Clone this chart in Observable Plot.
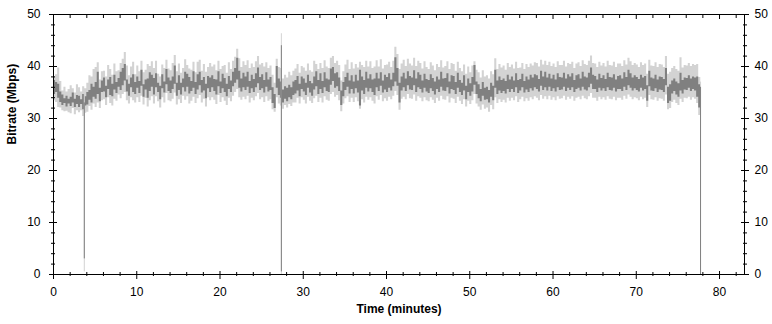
<!DOCTYPE html>
<html>
<head>
<meta charset="utf-8">
<script src="https://cdn.jsdelivr.net/npm/d3@7"></script>
<script src="https://cdn.jsdelivr.net/npm/@observablehq/plot@0.6"></script>
<style>
  html, body { margin: 0; padding: 0; background: #fff; }
  #chart svg { display: block; }
</style>
</head>
<body>
<div id="chart"></div>
<script>
// Sampling step (minutes) of the bitrate series
const step = 0.25;

// Dark band (inner range), Mbps — one line per minute (4 samples)
const darkLo = [
34.6,35.0,33.9,33.1,
32.5,32.9,32.2,32.8,
32.3,33.0,32.1,32.7,
32.1,32.7,31.7,32.4,
32.6,33.5,33.0,34.1,
33.7,34.6,33.2,35.0,
35.1,34.0,35.6,34.4,
34.2,35.5,34.8,36.0,
35.4,36.3,37.2,35.1,
34.3,35.9,35.0,34.6,
35.8,34.8,36.2,34.1,
35.5,33.9,35.2,36.0,
34.5,35.9,35.0,33.6,
35.7,34.9,36.5,35.2,
34.8,35.6,36.6,34.3,
35.4,34.5,35.9,35.1,
36.0,34.7,35.2,35.8,
34.6,35.5,36.3,34.9,
35.3,33.8,35.7,35.0,
35.9,35.2,34.5,36.1,
34.8,35.7,35.0,34.2,
35.6,35.0,36.1,36.8,
37.4,35.8,35.1,35.9,
35.4,36.0,34.8,35.7,
35.0,35.9,36.7,35.4,
35.7,34.9,36.0,35.1,
35.4,32.9,31.9,35.8,
34.4,33.9,33.0,33.7,
33.2,34.0,33.6,34.4,
34.7,35.3,34.2,35.6,
35.1,34.4,35.8,34.9,
34.3,35.5,36.1,34.6,
35.6,34.8,35.9,35.2,
35.0,36.4,37.1,35.8,
36.1,35.2,32.5,34.2,
35.4,36.0,34.7,35.6,
34.7,35.7,34.9,32.4,
35.3,34.6,35.8,35.1,
35.7,35.0,34.4,35.9,
35.2,36.2,34.9,35.5,
35.0,35.8,35.3,36.1,
37.0,36.2,33.0,35.3,
35.9,35.2,36.3,35.5,
35.4,36.3,35.0,35.9,
35.6,34.9,35.8,35.1,
34.8,35.7,35.2,34.5,
35.6,35.0,36.0,35.3,
35.2,35.9,34.7,35.6,
35.4,34.6,35.8,35.0,
34.4,35.3,33.6,35.0,
34.3,35.1,36.4,34.6,
33.8,33.2,34.3,33.5,
33.6,33.0,34.1,33.4,
35.8,34.6,35.3,34.8,
35.2,34.7,35.6,35.0,
35.6,35.0,35.9,34.8,
35.3,35.9,34.9,35.5,
35.0,35.7,35.3,35.9,
35.6,35.1,36.2,35.4,
35.9,35.3,36.0,35.2,
35.7,35.1,35.9,35.4,
35.5,36.0,35.2,35.8,
35.4,35.9,35.0,35.6,
35.8,35.3,36.0,35.5,
35.3,35.9,36.6,35.6,
35.6,35.0,35.8,35.3,
35.7,35.2,35.9,35.4,
35.3,35.8,35.1,35.6,
35.6,35.2,36.0,35.4,
36.3,35.8,35.3,35.7,
35.4,35.1,35.8,35.3,
35.6,33.3,36.1,35.3,
35.2,35.7,35.0,35.5,
35.4,35.0,36.3,32.9,
33.3,34.7,35.2,34.5,
34.1,35.3,34.7,35.5,
35.4,35.8,35.2,35.6,
35.3,34.1,32.0
];
const darkHi = [
37.3,36.9,36.6,35.1,
34.5,33.8,34.3,33.7,
34.1,34.9,33.7,34.4,
34.3,33.6,34.6,34.2,
35.0,35.4,36.6,36.0,
36.9,38.9,35.8,37.2,
37.8,36.2,37.4,37.9,
36.6,38.3,36.9,37.7,
38.9,39.6,40.4,37.4,
36.6,37.8,38.4,36.9,
38.0,37.1,39.3,36.5,
37.4,37.6,38.8,38.3,
37.7,38.6,36.8,36.2,
38.4,37.0,39.4,37.8,
37.2,38.0,40.1,36.8,
38.2,36.8,37.6,38.9,
38.5,37.9,37.1,39.0,
36.9,38.4,38.9,37.3,
37.9,36.6,38.1,37.8,
38.2,37.5,37.4,39.0,
37.0,38.5,37.7,36.6,
38.1,37.2,38.9,39.6,
41.6,39.1,37.6,38.7,
38.0,38.9,37.1,38.3,
37.5,38.6,39.7,37.9,
38.4,37.3,38.8,37.4,
37.9,35.9,34.6,40.0,
37.6,37.0,35.5,36.1,
35.8,36.4,35.9,37.0,
37.3,38.1,36.6,38.0,
37.6,36.8,38.3,37.1,
36.7,38.0,39.0,37.3,
38.6,37.1,38.8,37.6,
37.4,39.5,39.8,38.6,
38.8,37.8,35.3,36.9,
37.9,38.7,37.2,38.2,
37.0,38.3,37.2,39.3,
38.0,37.3,38.9,37.6,
38.4,37.4,37.6,38.7,
37.6,38.8,37.2,38.3,
37.9,38.6,37.4,38.7,
41.7,39.6,36.8,38.0,
38.7,37.6,39.0,38.1,
37.8,39.2,37.6,38.8,
38.3,37.2,38.5,37.5,
37.3,38.4,37.7,37.0,
38.0,37.4,38.9,37.6,
37.7,38.6,37.0,38.2,
38.1,36.9,38.7,37.3,
36.8,38.2,36.2,37.6,
36.7,37.9,40.2,37.0,
36.5,35.6,36.9,35.8,
36.0,35.4,36.8,36.2,
39.3,37.2,38.0,37.3,
37.6,37.1,38.3,37.4,
38.0,37.2,38.6,37.3,
37.5,38.5,37.1,38.0,
37.4,38.3,37.8,38.4,
38.2,37.5,39.1,38.0,
38.9,37.8,38.5,37.6,
38.3,37.4,38.6,37.9,
37.8,38.7,37.6,38.4,
38.0,38.6,37.3,38.2,
38.4,37.6,38.9,38.0,
37.8,38.7,39.7,38.3,
38.1,37.4,38.5,37.7,
38.2,37.5,38.7,37.9,
37.8,38.4,37.4,38.1,
38.2,37.6,38.8,37.9,
39.3,38.6,37.8,38.2,
37.9,37.5,38.3,37.8,
38.1,36.3,39.1,37.8,
37.6,38.3,37.4,38.0,
37.9,37.5,39.6,36.0,
36.5,37.2,37.6,37.0,
36.7,38.7,37.3,37.8,
37.7,38.2,37.6,38.0,
37.8,38.0,36.5
];

// Light band (outer range), Mbps
const lightLo = [
33.4,33.1,32.1,32.0,
31.5,31.3,31.4,31.1,
30.9,31.9,30.7,31.5,
31.1,31.5,30.4,31.0,
31.2,32.3,31.6,32.8,
32.1,33.0,31.9,33.4,
33.6,32.5,34.0,32.9,
32.4,33.7,33.3,34.5,
33.8,34.6,35.0,33.4,
32.8,34.0,33.4,33.0,
34.0,33.1,34.3,32.6,
33.9,32.2,33.4,34.2,
32.8,34.2,33.2,32.0,
34.0,33.0,34.8,33.4,
33.2,33.7,34.9,32.6,
33.6,32.9,34.3,33.5,
34.2,32.8,33.3,34.1,
32.9,33.8,34.4,33.0,
33.7,32.2,34.0,33.4,
34.0,33.5,32.7,34.4,
33.1,34.0,33.3,32.5,
33.9,33.2,34.3,35.0,
35.6,34.0,33.5,34.1,
33.6,34.3,33.0,33.9,
33.4,34.2,34.8,33.6,
34.0,33.1,34.2,33.3,
33.6,31.7,31.2,34.0,
32.8,32.4,31.8,32.5,
32.0,32.7,32.3,33.0,
33.0,33.9,32.8,34.0,
33.5,32.8,34.1,33.3,
32.9,33.8,34.3,33.1,
33.9,33.0,34.2,33.5,
33.3,34.6,35.0,34.1,
34.4,33.4,31.3,32.8,
33.8,34.2,33.1,33.9,
33.1,34.0,33.2,31.8,
33.6,33.0,34.1,33.5,
34.0,33.3,32.8,34.2,
33.5,34.4,33.2,33.8,
33.3,34.1,33.6,34.3,
35.2,34.4,31.6,33.7,
34.1,33.6,34.6,33.8,
33.7,34.5,33.3,34.2,
33.9,33.2,34.0,33.4,
33.2,34.0,33.5,32.9,
33.9,33.3,34.3,33.6,
33.5,34.2,33.0,33.9,
33.7,32.9,34.1,33.3,
32.7,33.6,32.2,33.3,
32.7,33.4,34.6,32.8,
32.2,31.6,32.6,31.8,
32.0,31.2,32.5,31.7,
34.0,32.9,33.6,33.1,
33.5,33.0,33.9,33.3,
33.9,33.4,34.2,33.1,
33.6,34.1,33.2,33.8,
33.3,34.0,33.6,34.2,
33.9,33.4,34.4,33.7,
34.2,33.6,34.3,33.5,
34.0,33.4,34.2,33.7,
33.8,34.3,33.5,34.1,
33.7,34.2,33.3,33.9,
34.1,33.6,34.3,33.8,
33.6,34.2,34.8,33.9,
33.9,33.3,34.1,33.6,
34.0,33.5,34.2,33.7,
33.6,34.1,33.4,33.9,
33.9,33.5,34.3,33.7,
34.5,34.1,33.6,34.0,
33.8,33.4,34.1,33.6,
33.9,32.1,34.4,33.6,
33.5,34.0,33.3,33.8,
33.7,33.3,34.5,31.7,
31.9,33.1,33.5,32.9,
32.5,33.7,33.1,33.9,
33.8,34.1,33.5,34.0,
33.7,32.9,30.6
];
const lightHi = [
38.1,38.4,39.7,37.1,
35.3,36.0,35.1,35.6,
36.3,35.7,34.9,36.5,
35.9,35.1,36.1,35.7,
36.8,38.2,38.0,39.4,
39.8,40.7,37.4,39.0,
39.1,38.0,40.2,39.4,
38.3,40.5,39.0,39.2,
40.6,41.4,42.7,40.1,
38.2,39.9,40.8,38.4,
40.1,39.0,41.0,38.8,
39.3,40.4,40.0,40.9,
39.6,41.0,38.5,38.0,
40.3,39.6,41.2,39.5,
39.2,40.6,42.1,39.0,
40.5,38.7,39.6,41.3,
40.2,39.5,39.3,40.8,
38.8,40.8,41.2,39.1,
40.4,38.9,39.8,40.6,
39.9,40.3,39.2,41.0,
39.4,40.0,40.2,38.7,
40.7,39.4,41.0,41.8,
43.3,41.5,39.8,40.9,
40.2,41.1,39.6,40.5,
39.8,40.9,41.9,40.3,
40.6,39.9,40.7,39.6,
40.1,38.3,36.8,41.4,
39.8,39.6,37.6,38.3,
37.8,38.9,38.2,39.1,
39.5,40.4,38.7,40.0,
39.7,39.1,40.5,39.2,
38.9,41.0,40.4,39.4,
40.6,39.6,41.1,39.9,
39.6,41.6,41.9,40.6,
41.0,40.2,37.2,39.0,
40.3,41.2,39.4,40.7,
39.5,40.4,39.7,40.8,
40.2,39.8,41.0,39.9,
40.9,39.6,39.9,41.1,
39.9,41.3,39.5,40.2,
40.3,40.8,39.8,41.0,
43.7,42.3,39.4,40.5,
41.2,40.0,41.4,40.5,
40.1,41.6,40.0,41.0,
40.6,39.5,40.9,39.8,
39.4,40.7,40.1,39.2,
40.4,39.8,41.1,39.7,
40.0,40.9,39.4,40.6,
40.4,39.1,40.8,39.6,
39.0,40.3,38.5,39.9,
38.8,40.1,40.9,39.3,
38.8,37.8,39.2,38.0,
38.2,37.6,39.0,38.4,
41.5,39.4,40.4,39.7,
40.1,39.3,40.6,39.8,
40.3,39.5,40.8,39.6,
39.7,40.6,39.4,40.4,
39.8,40.5,40.1,40.7,
40.6,39.9,41.2,40.3,
41.0,40.2,40.8,40.0,
40.5,39.8,40.9,40.2,
40.2,41.0,39.9,40.6,
40.4,40.8,39.6,40.5,
40.7,40.0,41.1,40.4,
40.2,41.0,42.0,40.6,
40.5,39.8,40.8,40.1,
40.6,39.9,41.0,40.2,
40.1,40.8,39.8,40.5,
40.5,40.0,41.1,40.3,
41.6,40.9,40.2,40.6,
40.3,39.8,40.7,40.2,
40.5,38.5,41.2,40.1,
40.0,40.7,39.8,40.4,
40.3,39.8,41.9,38.5,
38.9,39.6,40.0,39.4,
39.1,41.7,39.7,40.2,
40.1,40.6,40.0,40.4,
40.2,40.4,37.9
];

// Isolated drop-outs / spikes: time (min) and ranges (Mbps)
const spikeT = [3.7, 27.37, 77.72];
const spikeDarkLo = [3.0, 0.5, 0.0];
const spikeDarkHi = [33.0, 44.0, 36.0];
const spikeLightLo = [0.5, 0.0, 0.0];
const spikeLightHi = [35.0, 46.3, 37.0];

// Axis ticks
const xMajor = [0, 10, 20, 30, 40, 50, 60, 70, 80];
const xMinor = d3.range(0, 83, 2).filter(v => v % 10 !== 0);
const yMajor = [0, 10, 20, 30, 40, 50];
const yMinor = d3.range(0, 51, 2).filter(v => v % 10 !== 0);

const data = darkLo.map((_, i) => ({
  t: i * step, dLo: darkLo[i], dHi: darkHi[i], lLo: lightLo[i], lHi: lightHi[i]
}));
const last = data[data.length - 1];
data.push({...last, t: last.t + step});

const spikes = spikeT.map((t, i) => ({
  t, dLo: spikeDarkLo[i], dHi: spikeDarkHi[i], lLo: spikeLightLo[i], lHi: spikeLightHi[i]
}));

const blank = () => "";
const FONT = "'Liberation Sans', Arial, sans-serif";
const LIGHT = "#d3d3d3", DARK = "#808080";

const chart = Plot.plot({
  width: 772,
  height: 324,
  marginLeft: 53,
  marginRight: 28,
  marginTop: 14,
  marginBottom: 50,
  style: {fontFamily: FONT, fontSize: "12px", color: "#000", background: "#fff"},
  x: {domain: [0, 83]},
  y: {domain: [0, 50]},
  marks: [
    Plot.areaY(data, {x: "t", y1: "lLo", y2: "lHi", fill: LIGHT, curve: "step-after"}),
    Plot.areaY(data, {x: "t", y1: "dLo", y2: "dHi", fill: DARK, curve: "step-after"}),
    Plot.ruleX(spikes, {x: "t", y1: "lLo", y2: "lHi", stroke: LIGHT, strokeWidth: 1}),
    Plot.ruleX(spikes, {x: "t", y1: "dLo", y2: "dHi", stroke: DARK, strokeWidth: 1}),
    Plot.frame({stroke: "#000"}),
    // bottom axis
    Plot.axisX({ticks: xMajor, tickSize: 5, tickPadding: 8, label: null, fontSize: 12}),
    Plot.axisX({ticks: xMajor, tickSize: 3, dy: -3, tickFormat: blank, label: null}),
    Plot.axisX({ticks: xMinor, tickSize: 2, tickFormat: blank, label: null}),
    Plot.axisX({ticks: xMinor, tickSize: 2, dy: -2, tickFormat: blank, label: null}),
    // top axis (inward ticks)
    Plot.axisX({anchor: "top", ticks: xMinor, tickSize: 3, dy: 3, tickFormat: blank, label: null}),
    Plot.axisX({anchor: "top", ticks: xMajor, tickSize: 4, dy: 4, tickFormat: blank, label: null}),
    // left axis
    Plot.axisY({ticks: yMajor, tickSize: 4, tickPadding: 9, label: null, fontSize: 12}),
    Plot.axisY({ticks: yMajor, tickSize: 4, dx: 4, tickFormat: blank, label: null}),
    Plot.axisY({ticks: yMinor, tickSize: 2, tickFormat: blank, label: null}),
    Plot.axisY({ticks: yMinor, tickSize: 2, dx: 2, tickFormat: blank, label: null}),
    // right axis
    Plot.axisY({anchor: "right", ticks: yMajor, tickSize: 4, tickPadding: 6, label: null, fontSize: 12}),
    Plot.axisY({anchor: "right", ticks: yMajor, tickSize: 4, dx: -4, tickFormat: blank, label: null}),
    Plot.axisY({anchor: "right", ticks: yMinor, tickSize: 2, tickFormat: blank, label: null}),
    Plot.axisY({anchor: "right", ticks: yMinor, tickSize: 2, dx: -2, tickFormat: blank, label: null}),
    // axis titles
    Plot.text(["Time (minutes)"], {frameAnchor: "bottom", dy: 38, fontWeight: "bold", fontSize: 12, fill: "#000"}),
    Plot.text(["Bitrate (Mbps)"], {frameAnchor: "left", dx: -41, rotate: -90, fontWeight: "bold", fontSize: 12, fill: "#000"})
  ]
});
document.getElementById("chart").appendChild(chart);
</script>
</body>
</html>
